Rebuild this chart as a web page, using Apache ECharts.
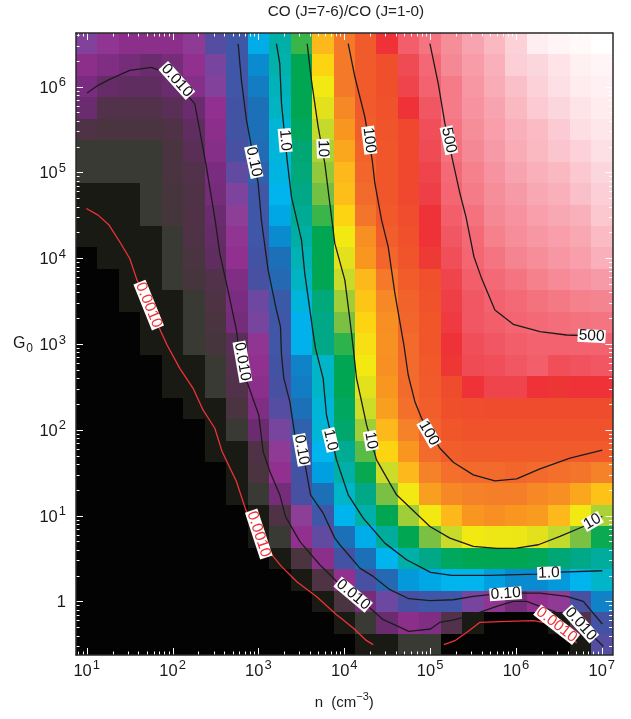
<!DOCTYPE html>
<html><head><meta charset="utf-8">
<style>html,body{margin:0;padding:0;background:#fff}#c{width:631px;height:719px}</style>
<script src="https://cdn.jsdelivr.net/npm/echarts@6/dist/echarts.min.js"></script>
</head><body><div id="c"></div>
<script>
// log10 of cell centres
const logN = [1,1.25,1.5,1.75,2,2.25,2.5,2.75,3,3.25,3.5,3.75,4,4.25,4.5,4.75,5,5.25,5.5,5.75,6,6.25,6.5,6.75,7];
const logG0 = [6.5,6.25,6,5.75,5.5,5.25,5,4.75,4.5,4.25,4,3.75,3.5,3.25,3,2.75,2.5,2.25,2,1.75,1.5,1.25,1,0.75,0.5,0.25,0,-0.25,-0.5];
// log10 of the line ratio, one row per G0, top to bottom
const ratio = [
[-1.4,-1.55,-1.65,-1.65,-1.65,-1.5,-1.2,-1.05,-.45,-.1,.5,1.45,1.85,2.2,2.55,2.7,2.82,2.95,3.08,3.2,3.38,3.68,3.78,3.85,3.95],
[-1.65,-1.75,-1.85,-1.95,-1.85,-1.6,-1.35,-1.05,-.7,-.12,.25,1.3,1.85,2.2,2.35,2.65,2.75,2.92,3.03,3.15,3.35,3.42,3.55,3.7,3.78],
[-1.8,-2,-2.05,-2.05,-1.95,-1.7,-1.4,-1.05,-.78,-.18,.25,1.15,1.85,2.2,2.35,2.62,2.72,2.85,3,3.12,3.25,3.38,3.5,3.65,3.72],
[-1.95,-2.2,-2.2,-2.2,-2.1,-1.95,-1.6,-1.1,-.85,-.22,.25,1,1.75,2.2,2.3,2.55,2.68,2.85,2.98,3.08,3.2,3.32,3.42,3.55,3.65],
[-2.25,-2.35,-2.35,-2.35,-2.25,-2.05,-1.65,-1.1,-.85,-.3,.2,.87,1.65,2.15,2.28,2.42,2.66,2.82,2.95,3.05,3.15,3.22,3.32,3.48,3.58],
[-2.6,-2.6,-2.6,-2.6,-2.35,-2.1,-1.7,-1.15,-.88,-.32,.12,.8,1.55,2.1,2.25,2.42,2.65,2.8,2.92,3.02,3.12,3.2,3.28,3.38,3.5],
[-2.6,-2.6,-2.6,-2.6,-2.35,-2.2,-1.8,-1.25,-.95,-.35,.1,.75,1.45,2.05,2.25,2.42,2.62,2.76,2.88,2.98,3.08,3.15,3.2,3.3,3.42],
[-3,-3,-3,-2.6,-2.4,-2.25,-1.85,-1.38,-1.05,-.4,.05,.68,1.42,2,2.25,2.42,2.6,2.74,2.85,2.95,3.02,3.1,3.15,3.25,3.35],
[-3,-3,-3,-2.6,-2.45,-2.25,-1.95,-1.45,-1.05,-.5,0,.5,1.3,1.9,2.22,2.38,2.55,2.7,2.8,2.92,2.98,3.05,3.1,3.15,3.3],
[-3,-3,-3,-3,-2.6,-2.25,-2,-1.55,-1.05,-.7,-.08,.25,1.15,1.7,2.15,2.32,2.55,2.68,2.76,2.88,2.95,3,3.05,3.1,3.22],
[-3.6,-3,-3,-3,-2.6,-2.35,-2.05,-1.6,-1.1,-.85,-.15,.25,1,1.65,2.05,2.28,2.5,2.66,2.74,2.82,2.9,2.95,3,3.05,3.15],
[-3.6,-3.6,-3,-3,-2.6,-2.4,-2.2,-1.75,-1.15,-.9,-.22,.25,.88,1.45,1.85,2.18,2.32,2.62,2.7,2.76,2.82,2.88,2.93,2.98,3.02],
[-3.6,-3.6,-3,-3,-3,-2.6,-2.3,-1.8,-1.3,-1,-.32,.1,.78,1.38,1.75,2.1,2.3,2.6,2.68,2.72,2.76,2.8,2.84,2.88,2.9],
[-3.6,-3.6,-3.6,-3,-3,-2.6,-2.35,-1.85,-1.35,-1.05,-.42,.05,.7,1.3,1.7,2.05,2.25,2.58,2.68,2.7,2.73,2.76,2.78,2.8,2.82],
[-3.6,-3.6,-3.6,-3,-3,-2.6,-2.4,-2.1,-1.55,-1.05,-.42,.05,.45,1.22,1.68,2,2.25,2.55,2.66,2.68,2.7,2.72,2.72,2.72,2.72],
[-3.6,-3.6,-3.6,-3.6,-3,-3,-2.6,-2.15,-1.6,-1.1,-.75,-.25,.25,1.15,1.7,2,2.22,2.52,2.65,2.66,2.68,2.7,2.66,2.67,2.68],
[-3.6,-3.6,-3.6,-3.6,-3,-3,-2.6,-2.2,-1.65,-1.15,-.78,-.25,.25,1,1.65,2,2.2,2.4,2.55,2.62,2.62,2.55,2.53,2.55,2.55],
[-3.6,-3.6,-3.6,-3.6,-3.6,-3,-3,-2.35,-1.75,-1.2,-.85,-.3,.2,.9,1.6,1.95,2.15,2.35,2.38,2.4,2.4,2.4,2.4,2.4,2.4],
[-3.6,-3.6,-3.6,-3.6,-3.6,-3.6,-3,-2.6,-1.95,-1.35,-.95,-.3,.15,.78,1.45,1.8,2.1,2.25,2.3,2.3,2.3,2.3,2.3,2.3,2.3],
[-3.6,-3.6,-3.6,-3.6,-3.6,-3.6,-3,-3,-2.25,-1.5,-1.05,-.4,0,.6,1.3,1.65,2,2.15,2.2,2.2,2.2,2.2,2.2,2.2,2.2],
[-3.6,-3.6,-3.6,-3.6,-3.6,-3.6,-3.6,-3,-2.35,-1.6,-1.1,-.55,-.1,.28,.9,1.45,1.8,1.95,2,2,2.05,2,1.95,1.9,1.8],
[-3.6,-3.6,-3.6,-3.6,-3.6,-3.6,-3.6,-3,-2.6,-1.85,-1.15,-.85,-.25,.05,.7,1.15,1.6,1.75,1.8,1.82,1.82,1.75,1.7,1.55,1.4],
[-3.6,-3.6,-3.6,-3.6,-3.6,-3.6,-3.6,-3.6,-3,-2.25,-1.45,-1.05,-.4,-.1,.25,.78,1.15,1.45,1.65,1.7,1.65,1.62,1.45,1.15,.8],
[-3.6,-3.6,-3.6,-3.6,-3.6,-3.6,-3.6,-3.6,-3,-2.6,-1.6,-1.25,-.85,-.45,-.05,.25,.7,.88,1.15,1.12,1.1,1,.85,.7,.3],
[-3.6,-3.6,-3.6,-3.6,-3.6,-3.6,-3.6,-3.6,-3.6,-3,-2.35,-1.65,-1.1,-.85,-.4,-.1,.05,.2,.25,.25,.25,.22,.12,.05,-.05],
[-3.6,-3.6,-3.6,-3.6,-3.6,-3.6,-3.6,-3.6,-3.6,-3.6,-3,-2.3,-1.6,-1.15,-.9,-.6,-.5,-.4,-.4,-.55,-.7,-.7,-.6,-.4,-.25],
[-3.6,-3.6,-3.6,-3.6,-3.6,-3.6,-3.6,-3.6,-3.6,-3.6,-3.6,-3,-2.35,-1.85,-1.3,-1.15,-1.05,-1.05,-1.35,-1.55,-1.85,-1.6,-1.5,-1.15,-.75],
[-3.6,-3.6,-3.6,-3.6,-3.6,-3.6,-3.6,-3.6,-3.6,-3.6,-3.6,-3.6,-3,-2.6,-1.95,-1.65,-1.75,-2.2,-3,-3.6,-3.6,-3.6,-3,-2.2,-1.1],
[-3.6,-3.6,-3.6,-3.6,-3.6,-3.6,-3.6,-3.6,-3.6,-3.6,-3.6,-3.6,-3.6,-3,-3,-2.6,-2.6,-3.6,-3.6,-3.6,-3.6,-3.6,-3.6,-3,-1.2]
];
// colour table: log10 ratio -> colour
const colorLevels = [-3.6,-3,-2.6,-2.35,-2.15,-2,-1.8,-1.6,-1.45,-1.3,-1.15,-1,-.85,-.7,-.55,-.4,-.25,-.1,.05,.25,.5,.7,.85,1,1.15,1.3,1.45,1.65,1.85,2,2.2,2.4,2.55,2.65,2.7,2.85,3,3.15,3.3,3.5,3.7,3.95];
const colorHex = ['#030303','#1a1a14','#3a3a34','#4a343f','#55304f','#652c68','#7a2d80','#92308f','#8d3f98','#6c48a0','#4850a2','#3a5aa8','#1b70b8','#0a8bd0','#00a0e0','#00b4ee','#00b5c8','#00b0a8','#00a888','#00a651','#39b54a','#7ac143','#c2d92e','#e3e11c','#f2e913','#fcd412','#fdb91b','#f89620','#f47a2a','#f26a2c','#f15a2a','#ef4b2d','#ee3237','#ef4b54','#f25f6b','#f47b87','#f797a4','#f9b0ba','#fbc8d0','#fde0e5','#fff0f2','#ffffff'];
// contours, [log n, log G0]
const contour0010a = [[.996,4.58],[1.132,4.502],[1.26,4.386],[1.384,4.192],[1.501,3.997],[1.586,3.745],[1.722,3.454],[1.936,2.988],[2.084,2.716],[2.239,2.484],[2.355,2.231],[2.492,2.018],[2.577,1.746],[2.744,1.397],[2.853,1.067],[3.004,.784],[3.171,.524],[3.268,.408],[3.451,.225],[3.676,.058],[3.91,-.155],[3.949,-.185],[4.104,-.311],[4.26,-.458],[4.337,-.504]];
const contour0010b = [[5.161,-.504],[5.289,-.458],[5.445,-.349],[5.581,-.244],[5.892,-.233],[6.202,-.225],[6.474,-.272],[6.707,-.485]];
const contour010 = [[1.004,5.926],[1.12,6.008],[1.26,6.081],[1.501,6.19],[1.753,6.225],[1.85,6.19],[2.045,6.035],[2.258,5.802],[2.317,5.491],[2.394,5.065],[2.499,4.424],[2.55,4.056],[2.628,3.706],[2.744,3.163],[2.783,2.833],[2.853,2.6],[3.004,2.173],[3.055,1.746],[3.133,1.513],[3.249,1.242],[3.315,.99],[3.482,.699],[3.715,.427],[3.871,.272],[4.026,.116],[4.299,-.078],[4.454,-.213],[4.753,-.349],[5.006,-.322],[5.115,-.244],[5.289,-.213],[5.503,-.155],[5.775,-.058],[5.969,0],[6.125,0],[6.28,-.058],[6.45,-.12],[6.754,-.264],[7.018,-.524]];
const contour10 = [[2.764,6.5],[2.802,6.073],[2.861,5.608],[2.919,5.297],[2.997,4.871],[3.035,4.444],[3.113,3.862],[3.21,3.396],[3.257,3.202],[3.269,2.872],[3.296,2.6],[3.366,2.328],[3.424,1.94],[3.548,1.572],[3.607,1.242],[3.754,1.028],[3.89,.737],[3.949,.66],[4.182,.388],[4.337,.291],[4.532,.136],[4.753,.031],[4.998,.008],[5.27,.019],[5.503,.058],[5.697,.078],[6.066,.097],[6.28,.097],[6.591,.058],[6.785,0],[7.006,-.264]];
const contour1 = [[3.21,6.5],[3.249,6.268],[3.269,5.802],[3.335,5.142],[3.385,4.715],[3.502,4.211],[3.54,3.823],[3.638,3.124],[3.665,2.949],[3.754,2.6],[3.793,2.173],[3.91,1.649],[3.949,1.533],[4.046,1.242],[4.221,.97],[4.473,.679],[4.726,.485],[5.006,.338],[5.25,.303],[5.697,.303],[6.241,.318],[6.513,.342],[7.006,.357]];
const contour10x = [[3.568,6.5],[3.618,6.073],[3.696,5.53],[3.774,5.103],[3.832,4.638],[3.89,4.172],[4.007,3.745],[4.066,3.28],[4.104,2.96],[4.143,2.6],[4.202,2.328],[4.26,2.057],[4.376,1.649],[4.609,1.242],[4.998,.873],[5.231,.737],[5.503,.64],[5.775,.617],[6.008,.621],[6.261,.66],[6.513,.757],[6.785,.873],[7.006,.99]];
const contour100 = [[4.046,6.5],[4.124,6.112],[4.24,5.647],[4.326,5.142],[4.357,4.871],[4.435,4.444],[4.512,4.133],[4.59,3.59],[4.695,2.988],[4.745,2.639],[4.823,2.328],[4.901,2.134],[5.115,1.785],[5.27,1.622],[5.503,1.475],[5.755,1.405],[6.008,1.428],[6.28,1.544],[6.63,1.669],[7.006,1.762]];
const contour500 = [[4.998,6.5],[5.095,6.035],[5.173,5.569],[5.262,5.142],[5.348,4.754],[5.418,4.482],[5.511,4.017],[5.6,3.765],[5.755,3.396],[5.969,3.229],[6.28,3.144],[6.591,3.105],[7.006,3.09]];
// contour labels
const labelText = ['0.010','0.10','1.0','10','100','500','500','0.010','0.10','1.0','10','100','0.010','0.10','1.0','10','0.010','0.0010','0.0010','0.0010'];
const labelN = [2.05,2.946,3.311,3.754,4.291,5.219,6.882,2.814,3.502,3.84,4.31,4.986,4.104,5.88,6.385,6.89,6.754,1.722,3.004,6.474];
const labelG = [6.07,5.123,5.375,5.278,5.375,5.375,3.093,2.794,1.766,1.882,1.874,1.96,.078,.089,.33,.931,-.264,3.454,.784,-.272];
const labelAngle = [-48,-78,-85,-88,-83,-78,-3,-80,-80,-77,-80,-60,-40,4,2,30,-48,-68,-72,-38];
// ticks
const xMajor = [1,2,3,4,5,6,7];
const yMajor = [0,1,2,3,4,5,6];
const minorMultiples = [2,3,4,5,6,7,8,9];
const titleText = 'CO (J=7-6)/CO (J=1-0)';

function minors(lo, hi, d0, d1) {
  const out = [];
  for (let d = d0; d <= d1; d++) for (const m of minorMultiples) { const v = d + Math.log10(m); if (v > lo && v < hi) out.push(v); }
  return out;
}
function hexRgb(h){return [1,3,5].map(i=>parseInt(h.substr(i,2),16));}
function colorOf(v){
  if (v<=colorLevels[0]) return colorHex[0];
  for (let i=1;i<colorLevels.length;i++) if (v<=colorLevels[i]) {
    const t=(v-colorLevels[i-1])/(colorLevels[i]-colorLevels[i-1]);
    const a=hexRgb(colorHex[i-1]),b=hexRgb(colorHex[i]);
    return 'rgb('+a.map((c,k)=>Math.round(c+(b[k]-c)*t)).join(',')+')';
  }
  return colorHex[colorHex.length-1];
}
const cells=[];
logG0.forEach((g,r)=>logN.forEach((n,c)=>cells.push([n,g,ratio[r][c]])));

const FONT='"Liberation Sans",Arial,sans-serif';
const xMin=.875,xMax=7.125,yMin=-.625,yMax=6.625;
const rich={b:{fontSize:16.5,fontFamily:FONT,color:'#1a1a1a',padding:[7,0,0,0]},s:{fontSize:13,fontFamily:FONT,color:'#1a1a1a',padding:[0,0,6,1]}};
const richY={b:{fontSize:16.5,fontFamily:FONT,color:'#1a1a1a',padding:[3,0,0,0]},s:{fontSize:13,fontFamily:FONT,color:'#1a1a1a',padding:[0,0,8,1]}};
const sup=v=>'{b|10}{s|'+v+'}';
const axisLine={show:true,onZero:false,lineStyle:{color:'#2a2a2a',width:1.5}};
const xAxes=[
 {type:'value',position:'bottom',min:xMin,max:xMax,zlevel:1,splitLine:{show:false},axisLine,axisTick:{show:false},
  axisLabel:{show:true,customValues:xMajor,formatter:v=>sup(Math.round(v)),rich,margin:1,hideOverlap:false},
  name:'{t|n  (cm}{u|−3}{t|)}',nameLocation:'middle',nameGap:34,
  nameTextStyle:{rich:{t:{fontSize:15,fontFamily:FONT,color:'#1a1a1a',padding:[6,0,0,0]},u:{fontSize:11,fontFamily:FONT,color:'#1a1a1a',padding:[0,0,5,0]}}}},
 {type:'value',position:'top',min:xMin,max:xMax,zlevel:1,splitLine:{show:false},axisLine,axisTick:{show:false},axisLabel:{show:false}}
];
const yAxes=[
 {type:'value',position:'left',min:yMin,max:yMax,zlevel:1,splitLine:{show:false},axisLine,axisTick:{show:false},
  axisLabel:{show:true,customValues:yMajor,formatter:v=>{const k=Math.round(v);return k===0?'{b|1}':sup(k);},rich:richY,margin:10},
  name:'{t|G}{u|0}',nameLocation:'middle',nameRotate:0,nameGap:43,
  nameTextStyle:{rich:{t:{fontSize:16,fontFamily:FONT,color:'#1a1a1a'},u:{fontSize:12,fontFamily:FONT,color:'#1a1a1a',padding:[9,0,0,1]}}}},
 {type:'value',position:'right',min:yMin,max:yMax,zlevel:1,splitLine:{show:false},axisLine,axisTick:{show:false},axisLabel:{show:false}}
];
// tick table: [value, side (0 bottom, 1 top, 2 left, 3 right), length]
const MAJ=7,MIN=3.5;
const xMinor=minors(xMin,xMax,0,7), yMinor=minors(yMin,yMax,-1,6);
const ticks=[];
[0,1].forEach(s=>{xMajor.forEach(v=>ticks.push([v,s,MAJ]));xMinor.forEach(v=>ticks.push([v,s,MIN]));});
[2,3].forEach(s=>{yMajor.forEach(v=>ticks.push([v,s,MAJ]));yMinor.forEach(v=>ticks.push([v,s,MIN]));});

const line=(data,color)=>({type:'line',data,showSymbol:false,symbol:'none',z:5,silent:true,animation:false,smooth:false,lineStyle:{color:color||'#1c1c1c',width:1.3}});
const labelItems=labelText.map((t,i)=>({value:[labelN[i],labelG[i]],label:{formatter:t,rotate:labelAngle[i],color:t==='0.0010'?'#ee3237':'#111'}}));

echarts.init(document.getElementById('c'),null,{renderer:'canvas'}).setOption({
  animation:false,backgroundColor:'#fff',
  title:{text:titleText,left:341,top:-1,textAlign:'center',textStyle:{fontFamily:FONT,fontSize:15.3,fontWeight:'normal',color:'#222'}},
  grid:{left:76,top:33,width:536.5,height:622,containLabel:false},
  xAxis:xAxes,yAxis:yAxes,
  series:[
    {type:'custom',data:cells,z:1,silent:true,clip:true,encode:{x:0,y:1},
     renderItem(p,api){
       const n=api.value(0),g=api.value(1);
       const a=api.coord([n-.125,g+.125]),b=api.coord([n+.125,g-.125]);
       const x0=Math.round(a[0]),y0=Math.round(a[1]),x1=Math.round(b[0]),y1=Math.round(b[1]);
       return {type:'rect',shape:{x:x0,y:y0,width:x1-x0,height:y1-y0},style:{fill:colorOf(api.value(2))}};
     }},
    line(contour0010a,'#ee3237'),line(contour0010b,'#ee3237'),
    line(contour010),line(contour10),line(contour1),line(contour10x),line(contour100),line(contour500),
    {type:'scatter',data:labelItems,symbolSize:1,z:6,silent:true,itemStyle:{color:'rgba(0,0,0,0)',opacity:1},
     labelLayout:{hideOverlap:false},
     label:{show:true,position:'inside',opacity:1,fontFamily:FONT,fontSize:15.5,lineHeight:13,backgroundColor:'#fff',padding:[0,1,0,1]}},
    {type:'custom',data:ticks,z:8,silent:true,clip:false,encode:{x:0,y:1},
     renderItem(p,api){
       const v=api.value(0),s=api.value(1),len=api.value(2);
       let x,y,w,h;
       if(s<2){
         const c=api.coord([v,s===0?yMin:yMax]);
         x=Math.round(c[0]);w=1;h=len;y=s===0?c[1]-len:c[1];
       }else{
         const c=api.coord([s===2?xMin:xMax,v]);
         y=Math.round(c[1]);h=1;w=len;x=s===2?c[0]:c[0]-len;
       }
       return {type:'rect',shape:{x,y,width:w,height:h},style:{fill:'#fff'}};
     }}
  ]
});
</script></body></html>
